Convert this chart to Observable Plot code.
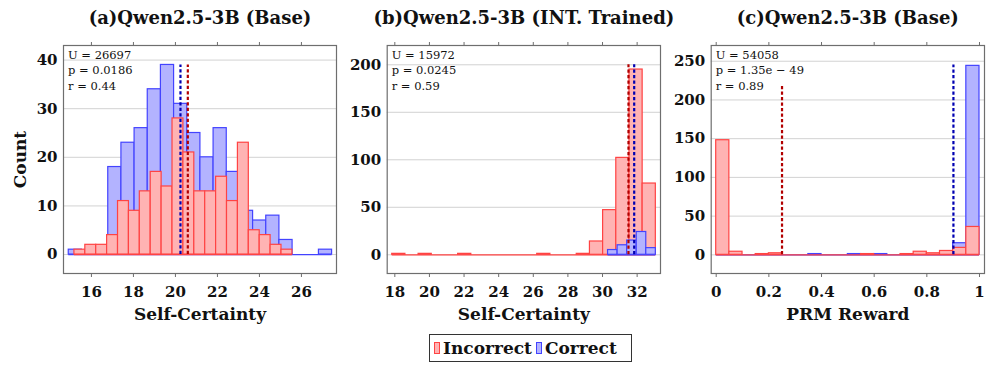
<!DOCTYPE html>
<html>
<head>
<meta charset="utf-8">
<script src="https://cdn.jsdelivr.net/npm/d3@7"></script>
<script src="https://cdn.jsdelivr.net/npm/@observablehq/plot@0.6"></script>
<style>
  body { margin: 0; background: #fff; }
  #wrap { position: relative; width: 996px; height: 369px; font-family: "DejaVu Serif", serif; }
  #wrap svg { position: absolute; top: 0; }
  .legend { position: absolute; left: 429px; top: 334px; width: 203px; height: 28px;
    border: 1px solid #333; display: flex; align-items: center; font-weight: bold;
    font-size: 17px; font-family: "DejaVu Serif", serif; color: #111; box-sizing: border-box; }
  .sw { display: inline-block; width: 6px; height: 12px; margin: 0 3px 0 4px; box-sizing: border-box; }
</style>
</head>
<body>
<div id="wrap"></div>
<script>
// ---------- data ----------
const panelTitles = ["(a)Qwen2.5-3B (Base)", "(b)Qwen2.5-3B (INT. Trained)", "(c)Qwen2.5-3B (Base)"];
const xLabels = ["Self-Certainty", "Self-Certainty", "PRM Reward"];
const yLabel = "Count";
const seriesNames = ["Incorrect", "Correct"];

// panel (a)
const aIncorrectCounts = [1, 2, 2, 4, 11, 9, 13, 17, 14, 28, 21, 13, 13, 16, 11, 23, 5, 4, 2, 1];
const aIncorrectRange = [15.19, 25.57];
const aCorrectCounts = [1, 0, 0, 18, 23, 26, 34, 39, 31, 25, 20, 26, 17, 9, 7, 8, 3, 0, 0, 1];
const aCorrectRange = [14.92, 27.46];
const aLineX = [20.59, 20.24];      // incorrect, correct
const aLineTop = [39, 39];
const aStats = ["U = 26697", "p = 0.0186", "r = 0.44"];
const aXTicks = [16, 18, 20, 22, 24, 26];
const aYTicks = [0, 10, 20, 30, 40];
const aXDomain = [14.67, 27.67];
const aYDomain = [-3.9, 43];

// panel (b)
const bIncorrectCounts = [1, 0, 1, 0, 0, 1, 0, 0, 0, 0, 0, 1, 0, 0, 1, 14, 47, 102, 195, 75];
const bIncorrectRange = [17.85, 33.08];
const bCorrectCounts = [5, 10, 15, 24, 7];
const bCorrectRange = [30.32, 33.08];
const bLineX = [31.5, 31.83];
const bLineTop = [200, 200];
const bStats = ["U = 15972", "p = 0.0245", "r = 0.59"];
const bXTicks = [18, 20, 22, 24, 26, 28, 30, 32];
const bYTicks = [0, 50, 100, 150, 200];
const bXDomain = [17.56, 33.35];
const bYDomain = [-19.7, 220.3];

// panel (c)
const cIncorrectCounts = [148, 4, 0, 1, 2, 0, 0, 0, 0, 0, 0, 1, 0, 0, 1, 4, 2, 5, 9, 36];
const cIncorrectRange = [0, 1];
const cCorrectCounts = [0, 0, 0, 0, 0, 0, 0, 1, 0, 0, 1, 0, 1, 0, 0, 0, 0, 0, 15, 244];
const cCorrectRange = [0, 1];
const cLineX = [0.25, 0.901];
const cLineTop = [220, 245];
const cStats = ["U = 54058", "p = 1.35e \u2212 49", "r = 0.89"];
const cXTicks = [0, 0.2, 0.4, 0.6, 0.8, 1];
const cYTicks = [0, 50, 100, 150, 200, 250];
const cXDomain = [-0.019, 1.019];
const cYDomain = [-24.1, 270.3];

// ---------- styles ----------
const RED_FILL = "#ffb3b3", RED_STROKE = "#ff4343";
const BLUE_FILL = "#b3b3ff", BLUE_STROKE = "#4343ff";
const RED_DASH = "#b20000", BLUE_DASH = "#0000b2";
const AXIS = "#6e6e6e";

function bins(counts, range) {
  const w = (range[1] - range[0]) / counts.length;
  return counts.map((c, i) => ({x1: range[0] + i * w, x2: range[0] + (i + 1) * w, y0: 0, y: c}));
}

function hist(counts, range, fill, stroke) {
  return [
    Plot.ruleY([{y: 0, x1: range[0], x2: range[1]}], {y: "y", x1: "x1", x2: "x2", stroke, strokeWidth: 1.2}),
    Plot.rect(bins(counts, range).filter(d => d.y > 0),
      {x1: "x1", x2: "x2", y1: "y0", y2: "y", fill, stroke, strokeWidth: 1.2})
  ];
}

function dashed(x, top, stroke) {
  return Plot.ruleX([{x, y0: 0, top}], {x: "x", y1: "y0", y2: "top", stroke, strokeWidth: 2.2, strokeDasharray: "3.3,2.2"});
}

function panel(cfg) {
  const marks = [
    Plot.gridY(cfg.yTicks, {stroke: "#d2d2d2", strokeOpacity: 1, strokeWidth: 1}),
    ...cfg.layers.flat(),
    dashed(cfg.lineX[0], cfg.lineTop[0], RED_DASH),
    dashed(cfg.lineX[1], cfg.lineTop[1], BLUE_DASH),
    Plot.frame({stroke: AXIS, strokeWidth: 1.2}),
    Plot.axisX(cfg.xTicks, {anchor: "bottom", tickSize: 4, tickPadding: 9, fontSize: 15, fontWeight: "bold",
      tickFormat: d => String(d), label: null, stroke: AXIS}),
    Plot.axisX(cfg.xTicks, {anchor: "top", tickSize: 4, tickFormat: () => "", label: null, stroke: AXIS}),
    Plot.axisY(cfg.yTicks, {anchor: "left", tickSize: 0, tickPadding: 6, fontSize: 15, fontWeight: "bold",
      tickFormat: d => String(d), label: null}),
    Plot.text([cfg.title], {text: d => d, frameAnchor: "top", lineAnchor: "middle", dy: -27, fontSize: 18, fontWeight: "bold"}),
    Plot.text([cfg.xLabel], {text: d => d, frameAnchor: "bottom", lineAnchor: "middle", dy: 41, fontSize: 17, fontWeight: "bold"}),
    ...cfg.stats.map((s, i) => Plot.text([s], {text: d => d, frameAnchor: "top-left", lineAnchor: "middle",
      dx: 4.5, dy: 9.8 + i * 15.5, textAnchor: "start", fontSize: 11.5, fontWeight: "normal", ariaLabel: "stat"}))
  ];
  if (cfg.yLabel) {
    marks.push(Plot.text([cfg.yLabel], {text: d => d, frameAnchor: "left", textAnchor: "middle", lineAnchor: "middle",
      dx: -43, rotate: -90, fontSize: 17, fontWeight: "bold"}));
  }
  const svg = Plot.plot({
    width: cfg.width, height: 330,
    marginLeft: cfg.mL, marginRight: cfg.mR, marginTop: 45, marginBottom: 57,
    x: {type: "linear", domain: cfg.xDomain},
    y: {type: "linear", domain: cfg.yDomain},
    style: {fontFamily: "'DejaVu Serif', serif", fontWeight: "bold", background: "transparent", overflow: "visible", color: "#111"},
    marks
  });
  svg.style.left = cfg.left + "px";
  // italic math letters in the statistics lines
  d3.select(svg).selectAll("g[aria-label=stat] text").each(function() {
    const t = this.textContent;
    const sel = d3.select(this);
    sel.text(null);
    for (const part of t.match(/[A-Za-z]+|[^A-Za-z]+/g)) {
      const ts = sel.append("tspan").text(part);
      if (/[A-Za-z]/.test(part)) ts.attr("font-style", "italic");
    }
  });
  return svg;
}

const wrap = document.getElementById("wrap");
wrap.appendChild(panel({
  left: 0, width: 345, mL: 63, mR: 9,
  xDomain: aXDomain, yDomain: aYDomain, xTicks: aXTicks, yTicks: aYTicks,
  layers: [hist(aCorrectCounts, aCorrectRange, BLUE_FILL, BLUE_STROKE), hist(aIncorrectCounts, aIncorrectRange, RED_FILL, RED_STROKE)],
  lineX: aLineX, lineTop: aLineTop, stats: aStats, title: panelTitles[0], xLabel: xLabels[0], yLabel
}));
wrap.appendChild(panel({
  left: 345, width: 325, mL: 41.7, mR: 10,
  xDomain: bXDomain, yDomain: bYDomain, xTicks: bXTicks, yTicks: bYTicks,
  layers: [hist(bIncorrectCounts, bIncorrectRange, RED_FILL, RED_STROKE), hist(bCorrectCounts, bCorrectRange, BLUE_FILL, BLUE_STROKE)],
  lineX: bLineX, lineTop: bLineTop, stats: bStats, title: panelTitles[1], xLabel: xLabels[1]
}));
wrap.appendChild(panel({
  left: 670, width: 326, mL: 40.7, mR: 12,
  xDomain: cXDomain, yDomain: cYDomain, xTicks: cXTicks, yTicks: cYTicks,
  layers: [hist(cCorrectCounts, cCorrectRange, BLUE_FILL, BLUE_STROKE), hist(cIncorrectCounts, cIncorrectRange, RED_FILL, RED_STROKE)],
  lineX: cLineX, lineTop: cLineTop, stats: cStats, title: panelTitles[2], xLabel: xLabels[2]
}));

// legend
const legend = document.createElement("div");
legend.className = "legend";
legend.innerHTML =
  `<span class="sw" style="background:${RED_FILL};border:1px solid ${RED_STROKE}"></span><span>${seriesNames[0]}</span>` +
  `<span class="sw" style="background:${BLUE_FILL};border:1px solid ${BLUE_STROKE}"></span><span>${seriesNames[1]}</span>`;
wrap.appendChild(legend);
</script>
</body>
</html>
